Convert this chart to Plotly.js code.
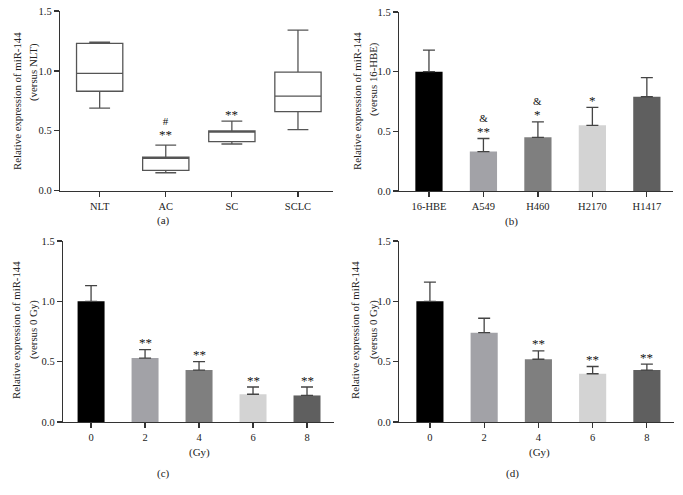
<!DOCTYPE html>
<html><head><meta charset="utf-8">
<script src="https://cdn.plot.ly/plotly-3.0.1.min.js"></script>
<style>html,body{margin:0;padding:0;background:#fff}#chart{width:683px;height:495px}</style>
</head><body><div id="chart"></div>
<script>
// Panel (a) box plot summary values
const catsA = ['NLT', 'AC', 'SC', 'SCLC'];
const lowA = [0.69, 0.15, 0.39, 0.51];
const q1A = [0.83, 0.17, 0.41, 0.66];
const medA = [0.98, 0.27, 0.49, 0.79];
const q3A = [1.23, 0.28, 0.50, 0.99];
const upA = [1.24, 0.38, 0.58, 1.34];
const sigA = ['', '**', '**', ''];
const sig2A = ['', '#', '', ''];

// Panel (b)
const catsB = ['16-HBE', 'A549', 'H460', 'H2170', 'H1417'];
const valB = [1.0, 0.33, 0.45, 0.55, 0.79];
const errB = [0.18, 0.11, 0.13, 0.15, 0.16];
const sigB = ['', '**', '*', '*', ''];
const sig2B = ['', '&', '&', '', ''];

// Panels (c), (d)
const doses = ['0', '2', '4', '6', '8'];
const valC = [1.0, 0.53, 0.43, 0.23, 0.22];
const errC = [0.13, 0.07, 0.07, 0.06, 0.07];
const sigC = ['', '**', '**', '**', '**'];
const valD = [1.0, 0.74, 0.52, 0.40, 0.43];
const errD = [0.16, 0.12, 0.07, 0.06, 0.05];
const sigD = ['', '', '**', '**', '**'];

const barColors = ['#000000', '#a2a2a7', '#7f7f7f', '#d3d3d3', '#5f5f5f'];
const FONT = 'Liberation Serif, Times New Roman, serif';
const axisCol = '#333';
const txtCol = '#222';

const traces = [];
catsA.forEach((c, i) => {
  traces.push({
    type: 'box', x: [c], q1: [q1A[i]], median: [medA[i]], q3: [q3A[i]],
    lowerfence: [lowA[i]], upperfence: [upA[i]],
    xaxis: 'x', yaxis: 'y', width: 0.7, whiskerwidth: 0.45,
    fillcolor: '#ffffff', line: {color: '#555', width: 1.3},
    boxpoints: false, showlegend: false, hoverinfo: 'skip'
  });
});

function barTrace(cats, vals, errs, xa, ya) {
  return {
    type: 'bar', x: cats, y: vals, xaxis: xa, yaxis: ya, width: 0.5,
    marker: {color: barColors, line: {width: 0}},
    error_y: {type: 'data', symmetric: false, array: errs, arrayminus: errs.map(() => 0),
      color: '#444', thickness: 1.3, width: 6},
    showlegend: false, hoverinfo: 'skip'
  };
}
traces.push(barTrace(catsB, valB, errB, 'x2', 'y2'));
traces.push(barTrace(doses, valC, errC, 'x3', 'y3'));
traces.push(barTrace(doses, valD, errD, 'x4', 'y4'));

const annotations = [];
// significance marks stacked just above each whisker / error bar
function sigAnn(tops, sigs, sigs2, xa, ya, gap) {
  sigs.forEach((s, i) => {
    if (!s) return;
    const star = '<span style="font-size:13px">' + s + '</span>';
    const text = sigs2 && sigs2[i] ? sigs2[i] + '<br>' + star : star;
    annotations.push({x: i, y: tops[i], xref: xa, yref: ya, text: text,
      showarrow: false, yanchor: 'bottom', yshift: gap(i), font: {family: FONT, size: 11, color: '#111'}});
  });
}
const topB = valB.map((v, i) => v + errB[i]);
const topC = valC.map((v, i) => v + errC[i]);
const topD = valD.map((v, i) => v + errD[i]);
sigAnn(upA, sigA, sig2A, 'x', 'y', i => (i === 1 ? 1.5 : -2.5));
sigAnn(topB, sigB, sig2B, 'x2', 'y2', () => -2.5);
sigAnn(topC, sigC, null, 'x3', 'y3', () => -2.5);
sigAnn(topD, sigD, null, 'x4', 'y4', () => -2.5);

function txt(x, y, text, angle, size) {
  annotations.push({x: x / 683, y: 1 - y / 495, xref: 'paper', yref: 'paper', text: text,
    showarrow: false, textangle: angle || 0, xanchor: 'center', yanchor: 'middle',
    font: {family: FONT, size: size || 11, color: txtCol}});
}
const L1 = 'Relative expression of miR-144';
txt(17, 101, L1, -90, 10.8);
txt(33, 72, '(versus NLT)', -90, 10.8);
txt(357, 101, L1, -90, 10.8);
txt(373, 79, '(versus 16-HBE)', -90, 10.8);
txt(16, 330, L1, -90, 10.8);
txt(33, 330, '(versus 0 Gy)', -90, 10.8);
txt(355, 330, L1, -90, 10.8);
txt(373, 330, '(versus 0 Gy)', -90, 10.8);
txt(163, 220, '(a)');
txt(511, 221, '(b)');
txt(199, 452, '(Gy)');
txt(539, 452, '(Gy)');
txt(163, 473, '(c)');
txt(512, 473, '(d)');

function xax(dom, rng, anchor) {
  return {domain: dom, range: rng, type: 'category', anchor: anchor, showline: true, linecolor: axisCol,
    linewidth: 1.2, ticks: 'outside', ticklen: 5, tickwidth: 1.2, tickcolor: axisCol, showgrid: false,
    zeroline: false, tickfont: {family: FONT, size: 10.5, color: txtCol}, fixedrange: true};
}
function yax(dom, anchor) {
  return {domain: dom, range: [0, 1.5], anchor: anchor, tickvals: [0, 0.5, 1.0, 1.5], tickformat: '.1f',
    showline: true, linecolor: axisCol, linewidth: 1.2, ticks: 'outside', ticklen: 5, tickwidth: 1.2,
    tickcolor: axisCol, showgrid: false, zeroline: false, tickfont: {family: FONT, size: 10.5, color: txtCol}};
}

const layout = {
  width: 683, height: 495, margin: {l: 0, r: 0, t: 0, b: 0},
  paper_bgcolor: '#fff', plot_bgcolor: '#fff', showlegend: false,
  font: {family: FONT},
  xaxis: xax([60 / 683, 333 / 683], [-0.6, 3.53], 'y'),
  yaxis: yax([1 - 190.7 / 495, 1 - 11 / 495], 'x'),
  xaxis2: xax([399 / 683, 673 / 683], [-0.55, 4.48], 'y2'),
  yaxis2: yax([1 - 191 / 495, 1 - 12 / 495], 'x2'),
  xaxis3: xax([63 / 683, 334 / 683], [-0.52, 4.5], 'y3'),
  yaxis3: yax([1 - 422 / 495, 1 - 241 / 495], 'x3'),
  xaxis4: xax([399 / 683, 674 / 683], [-0.57, 4.5], 'y4'),
  yaxis4: yax([1 - 422 / 495, 1 - 241 / 495], 'x4'),
  annotations: annotations
};
Plotly.newPlot('chart', traces, layout, {staticPlot: true});
</script></body></html>
